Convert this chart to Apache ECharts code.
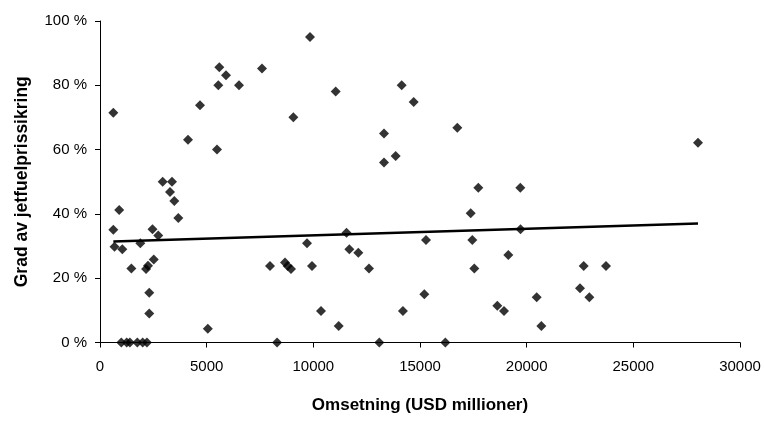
<!DOCTYPE html>
<html>
<head>
<meta charset="utf-8">
<script src="https://cdn.jsdelivr.net/npm/echarts@6/dist/echarts.min.js"></script>
<style>
  html, body { margin: 0; padding: 0; background: #fff; }
  #chart { width: 764px; height: 423px; }
</style>
</head>
<body>
<div id="chart"></div>
<script>
// Omsetning (USD millioner) per selskap
var revenue = [
  625, 9844, 5594, 5906, 5547, 6516, 7594, 4688, 4125, 5484,
  9063, 11047, 2938, 3375, 3281, 14141, 14703, 16750, 13313, 13313,
  13859, 17734, 19703, 28031, 3484, 3672, 625, 900, 680, 1047,
  1891, 1470, 2460, 2730, 2520, 2160, 2250, 2310, 2310, 5055,
  1000, 1250, 1400, 1750, 2000, 2200, 7969, 8300, 8672, 8797,
  8953, 9703, 9938, 10359, 11188, 11555, 11688, 12109, 12609, 13094,
  14200, 17375, 15281, 17453, 19710, 19141, 17547, 22672, 23719, 22500,
  22938, 15203, 18625, 18938, 20469, 20688, 16188
];

// Grad av jetfuelprissikring (%)
var hedgeShare = [
  71.5, 95.0, 85.6, 83.1, 80.0, 80.0, 85.2, 73.8, 63.1, 60.0,
  70.1, 78.1, 50.0, 50.0, 46.8, 80.0, 74.8, 66.8, 65.0, 56.0,
  58.0, 48.1, 48.1, 62.1, 44.0, 38.7, 35.1, 41.2, 29.8, 29.0,
  30.9, 23.0, 35.2, 33.3, 25.8, 22.9, 23.9, 15.5, 9.0, 4.3,
  0, 0, 0, 0, 0, 0, 23.8, 0, 24.9, 23.8,
  22.9, 30.9, 23.8, 9.8, 5.1, 34.1, 29.0, 27.9, 23.0, 0,
  9.8, 40.2, 31.9, 31.9, 35.2, 27.2, 23.0, 23.8, 23.8, 16.9,
  14.1, 15.0, 11.4, 9.8, 14.1, 5.1, 0
];

// Lineær trendlinje, endepunkter
var trendX = [625, 28031];
var trendY = [31.4, 37.0];

var xTicks = [0, 5000, 10000, 15000, 20000, 25000, 30000];
var yTicks = [0, 20, 40, 60, 80, 100];

var points = revenue.map(function (r, i) { return [r, hedgeShare[i]]; });
var trend = trendX.map(function (x, i) { return [x, trendY[i]]; });

var FONT = "'Liberation Sans', Arial, sans-serif";

var chart = echarts.init(document.getElementById('chart'), null, { renderer: 'canvas' });
chart.setOption({
  animation: false,
  backgroundColor: '#ffffff',
  grid: { left: 100, right: 24, top: 21, bottom: 80.5, containLabel: false },
  xAxis: {
    type: 'value',
    min: xTicks[0],
    max: xTicks[xTicks.length - 1],
    interval: xTicks[1] - xTicks[0],
    name: 'Omsetning (USD millioner)',
    nameLocation: 'middle',
    nameGap: 54,
    nameTextStyle: { fontFamily: FONT, fontSize: 17, fontWeight: 'bold', color: '#000' },
    axisLine: { show: true, lineStyle: { color: '#000', width: 1 } },
    axisTick: { show: true, length: 5, lineStyle: { color: '#000' } },
    axisLabel: {
      fontFamily: FONT, fontSize: 15, color: '#000', margin: 17,
      formatter: function (v) { return String(v); }
    },
    splitLine: { show: false }
  },
  yAxis: {
    type: 'value',
    min: yTicks[0],
    max: yTicks[yTicks.length - 1],
    interval: yTicks[1] - yTicks[0],
    name: 'Grad av jetfuelprissikring',
    nameLocation: 'middle',
    nameGap: 69,
    nameRotate: 90,
    nameTextStyle: { fontFamily: FONT, fontSize: 17.5, fontWeight: 'bold', color: '#000' },
    axisLine: { show: true, lineStyle: { color: '#000', width: 1 } },
    axisTick: { show: true, length: 5, lineStyle: { color: '#000' } },
    axisLabel: {
      fontFamily: FONT, fontSize: 15, color: '#000', margin: 13,
      formatter: function (v) { return v + ' %'; }
    },
    splitLine: { show: false }
  },
  series: [
    {
      type: 'scatter',
      data: points,
      symbol: 'diamond',
      symbolSize: 10,
      itemStyle: { color: '#000' },
      z: 2
    },
    {
      type: 'line',
      data: trend,
      showSymbol: false,
      symbol: 'none',
      lineStyle: { color: '#000', width: 2.5 },
      z: 3
    }
  ]
});
</script>
</body>
</html>
